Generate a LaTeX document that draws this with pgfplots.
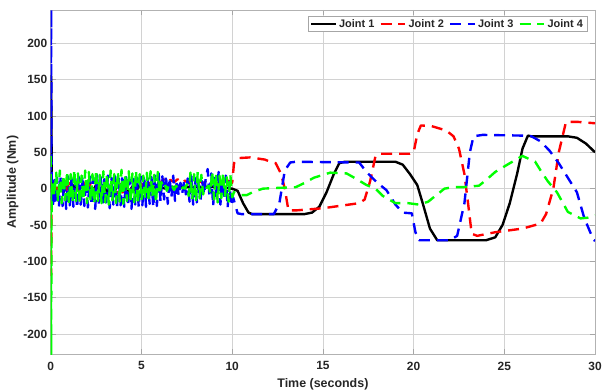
\documentclass[border=0pt]{standalone}
\usepackage{pgfplots}
\pgfplotsset{compat=1.18}
\usepackage{fontspec}
\setmainfont{Liberation Sans}
\definecolor{txt}{RGB}{38,38,38}
\begin{document}
\begin{tikzpicture}
\useasboundingbox (-51pt,-35pt) rectangle (558pt,356pt);
\begin{axis}[
  at={(0,0)}, anchor=south west,
  scale only axis, width=547pt, height=346pt,
  xmin=0, xmax=30, ymin=-228, ymax=246,
  xtick={0,5,...,30}, ytick={-200,-150,...,200},
  grid=major, major grid style={gray!35, line width=0.6pt},
  axis line style={gray!60, line width=0.8pt},
  tick style={gray!70, line width=0.6pt}, tick align=inside, major tick length=5pt,
  /pgf/number format/assume math mode=true,
  ticklabel style={font=\fontsize{12}{14}\selectfont\bfseries, text=txt},
  xticklabel style={yshift=-4pt},
  xlabel={Time (seconds)}, ylabel={Amplitude (Nm)},
  label style={font=\fontsize{12.5}{14}\selectfont\bfseries, text=txt},
  xlabel style={yshift=-1pt}, ylabel style={yshift=-2pt},
  legend columns=4,
  legend style={at={(1,1)}, anchor=north east, xshift=-8pt, yshift=-6pt,
    draw=gray!70, fill=white, font=\fontsize{11}{12}\selectfont\bfseries, text=txt,
    inner ysep=1pt, inner xsep=2pt,
    /tikz/every even column/.append style={column sep=3pt}},
  legend image code/.code={\draw[#1] (0pt,0pt) -- (25pt,0pt);},
  every axis plot/.append style={line width=2.4pt, line join=round},
]
% Joint 1
\addplot[black, solid] coordinates {
(0,0) (0.02,155) (0.06,2) (0.12,-10) (0.2,-15) (0.3,-3)
(0.5,4) (0.7,-5) (0.9,3) (1.1,-4) (1.3,5) (1.5,-3) (1.7,4) (1.9,-5) (2.1,3) (2.3,-4)
(2.5,5) (2.7,-3) (2.9,4) (3.1,-5) (3.3,3) (3.5,-4) (3.7,5) (3.9,-3) (4.1,4) (4.3,-5)
(4.5,3) (4.7,-4) (4.9,5) (5.1,-3) (5.3,4) (5.5,-2) (5.7,3) (5.9,-1) (6.1,2) (6.3,0)
(6.5,3) (6.7,1) (6.9,3) (7.1,2) (7.3,3) (7.5,2) (7.7,3) (7.9,2) (8.1,3) (8.3,2)
(8.5,3) (8.7,2) (8.9,3) (9.1,1) (9.3,2) (9.5,0) (9.7,1) (9.9,0)
(10.0,0) (10.3,-3) (10.6,-20) (10.9,-33) (11.1,-35) (14.0,-35) (14.4,-33) (14.8,-25)
(15.2,-5) (15.6,20) (15.9,35) (16.2,37) (19.0,37) (19.4,33) (19.8,20) (20.2,5)
(20.5,-20) (20.9,-55) (21.3,-71) (24.0,-71) (24.5,-67) (24.9,-50) (25.3,-20)
(25.7,20) (26.0,55) (26.3,73) (26.5,72) (28.5,72) (29.0,70) (29.5,62) (30,50)
};
\addlegendentry{Joint 1}
% Joint 2
\addplot[red, dash pattern=on 11pt off 7pt] coordinates {
(0,10) (0.02,-119) (0.05,5) (0.15,-12) (0.25,8)
(0.4,-8) (0.6,9) (0.8,-7) (1.0,8) (1.2,-9) (1.4,7) (1.6,-8) (1.8,9) (2.0,-7) (2.2,8)
(2.4,-9) (2.6,7) (2.8,-8) (3.0,9) (3.2,-7) (3.4,8) (3.6,-9) (3.8,7) (4.0,-8) (4.2,9)
(4.4,-7) (4.6,8) (4.8,-9) (5.0,7) (5.2,-5) (5.4,8) (5.6,4) (5.8,12) (6.0,6) (6.2,13)
(6.4,8) (6.6,12) (6.8,9) (7.0,13) (7.2,8) (7.4,11) (7.6,7) (7.8,12) (8.0,8) (8.2,11)
(8.4,7) (8.6,12) (8.8,8) (9.0,11) (9.2,7) (9.4,12) (9.6,8) (9.8,11) (10.0,8)
(10.1,35) (10.3,42) (11.0,43) (11.8,40) (12.0,38) (12.4,35) (12.7,20) (12.9,0)
(13.1,-30) (13.5,-30) (15,-27) (17,-20) (17.3,-15) (17.6,10) (17.9,45) (18.2,48)
(19.8,48) (20.0,50) (20.2,75) (20.4,87) (21.0,86) (21.8,80) (22.2,72) (22.5,55)
(22.8,20) (23.0,-20) (23.2,-62) (23.5,-65) (24.5,-60) (26,-55) (27,-48) (27.3,-35)
(27.7,0) (28.0,50) (28.4,92) (29,92) (30,90)
};
\addlegendentry{Joint 2}
% Joint 3
\addplot[blue, dash pattern=on 11pt off 7pt] coordinates {
(0,0) (0.02,246) (0.05,-10) (0.12,-24) (0.2,12)
(0.25,-22) (0.35,15) (0.45,-26) (0.55,18) (0.65,-24) (0.75,13) (0.85,-28) (0.95,17)
(1.05,-23) (1.15,19) (1.25,-25) (1.35,14) (1.45,-27) (1.55,16) (1.65,-22) (1.75,18)
(1.85,-24) (1.95,12) (2.05,-26) (2.15,17) (2.25,-23) (2.35,15) (2.45,-28) (2.55,19)
(2.65,-21) (2.75,16) (2.85,-25) (2.95,13) (3.05,-24) (3.15,18) (3.25,-27) (3.35,15)
(3.45,-22) (3.55,17) (3.65,-26) (3.75,14) (3.85,-23) (3.95,19) (4.05,-25) (4.15,16)
(4.25,-24) (4.35,13) (4.45,-28) (4.55,18) (4.65,-22) (4.75,15) (4.85,-26) (4.95,17)
(5.05,-23) (5.15,19) (5.25,-25) (5.35,14) (5.45,-21) (5.55,16) (5.65,-26) (5.75,18)
(5.85,-24) (5.95,21) (6.05,-18) (6.15,17) (6.25,-15) (6.35,19) (6.45,-21) (6.55,15)
(6.65,-12) (6.75,18) (6.85,-17) (6.95,12) (7.05,-10) (7.15,8) (7.25,-6) (7.35,10)
(7.45,-8) (7.55,14) (7.65,-18) (7.75,17) (7.85,-22) (7.95,15) (8.05,-19) (8.15,12)
(8.25,-17) (8.35,10) (8.45,-8) (8.55,16) (8.65,27) (8.75,-12) (8.85,21) (8.95,-24)
(9.05,15) (9.15,-18) (9.25,23) (9.35,-22) (9.45,12) (9.55,-15) (9.65,18) (9.75,-26)
(9.85,10) (9.95,-24)
(10.05,-12) (10.3,-34) (10.5,-35) (12.3,-35) (12.6,-20) (12.9,25) (13.2,36) (13.5,37)
(17.0,36) (17.4,23) (18.0,8) (18.5,-2) (19.0,-22) (19.4,-33) (19.9,-34) (20.1,-60)
(20.3,-71) (22.0,-71) (22.4,-65) (22.8,-20) (23.1,50) (23.3,72) (23.8,74) (26.0,73)
(26.5,72) (27.0,65) (27.5,52) (28.0,35) (28.5,15) (29.0,-5) (29.4,-40) (29.9,-70) (30,-72)
};
\addlegendentry{Joint 3}
% Joint 4
\addplot[green, dash pattern=on 11pt off 7pt] coordinates {
(0,45) (0.02,-228) (0.05,0) (0.12,12) (0.2,-10)
(0.3,22) (0.4,-18) (0.5,25) (0.6,-20) (0.7,19) (0.8,-16) (0.9,24) (1.0,-21) (1.1,20)
(1.2,-19) (1.3,26) (1.4,-17) (1.5,21) (1.6,-22) (1.7,18) (1.8,-16) (1.9,25) (2.0,-20)
(2.1,23) (2.2,-18) (2.3,20) (2.4,-21) (2.5,26) (2.6,-17) (2.7,19) (2.8,-20) (2.9,24)
(3.0,-19) (3.1,21) (3.2,-22) (3.3,25) (3.4,-16) (3.5,20) (3.6,-20) (3.7,23) (3.8,-18)
(3.9,26) (4.0,-21) (4.1,19) (4.2,-17) (4.3,24) (4.4,-20) (4.5,21) (4.6,-19) (4.7,25)
(4.8,-22) (4.9,20) (5.0,-16) (5.1,18) (5.2,-14) (5.3,22) (5.4,-18) (5.5,24) (5.6,-12)
(5.7,19) (5.8,-20) (5.9,23) (6.0,-8) (6.1,9) (6.2,2) (6.3,6) (6.4,-3) (6.5,4) (6.6,0)
(6.7,3) (6.8,-2) (6.9,4) (7.0,1) (7.1,3) (7.2,-1) (7.3,2) (7.4,0) (7.5,6) (7.6,-10)
(7.7,22) (7.8,-15) (7.9,20) (8.0,-18) (8.1,23) (8.2,-13) (8.3,19) (8.4,-8) (8.5,3)
(8.6,1) (8.7,4) (8.8,-6) (8.9,24) (9.0,-15) (9.1,21) (9.2,-19) (9.3,18) (9.4,-13)
(9.5,22) (9.6,-10) (9.7,16) (9.8,-18) (9.9,19) (10.0,-12)
(10.1,-5) (10.4,-9) (10.8,-9) (11.2,-4) (11.7,0) (12.5,1) (13.5,2) (14.0,8) (14.5,15)
(15.4,22) (16.3,21) (16.8,14) (17.4,5) (17.9,0) (18.3,-10) (19.0,-20) (19.7,-20)
(20.3,-22) (20.8,-18) (21.3,-8) (21.7,0) (22.2,2) (22.7,2) (23.6,4) (24.0,12) (24.5,23)
(25.3,35) (26.0,45) (26.7,37) (27.0,25) (27.4,10) (27.9,-5) (28.5,-32) (29.2,-41)
(29.6,-40) (30,-37)
};
\addlegendentry{Joint 4}
\end{axis}
\end{tikzpicture}
\end{document}
